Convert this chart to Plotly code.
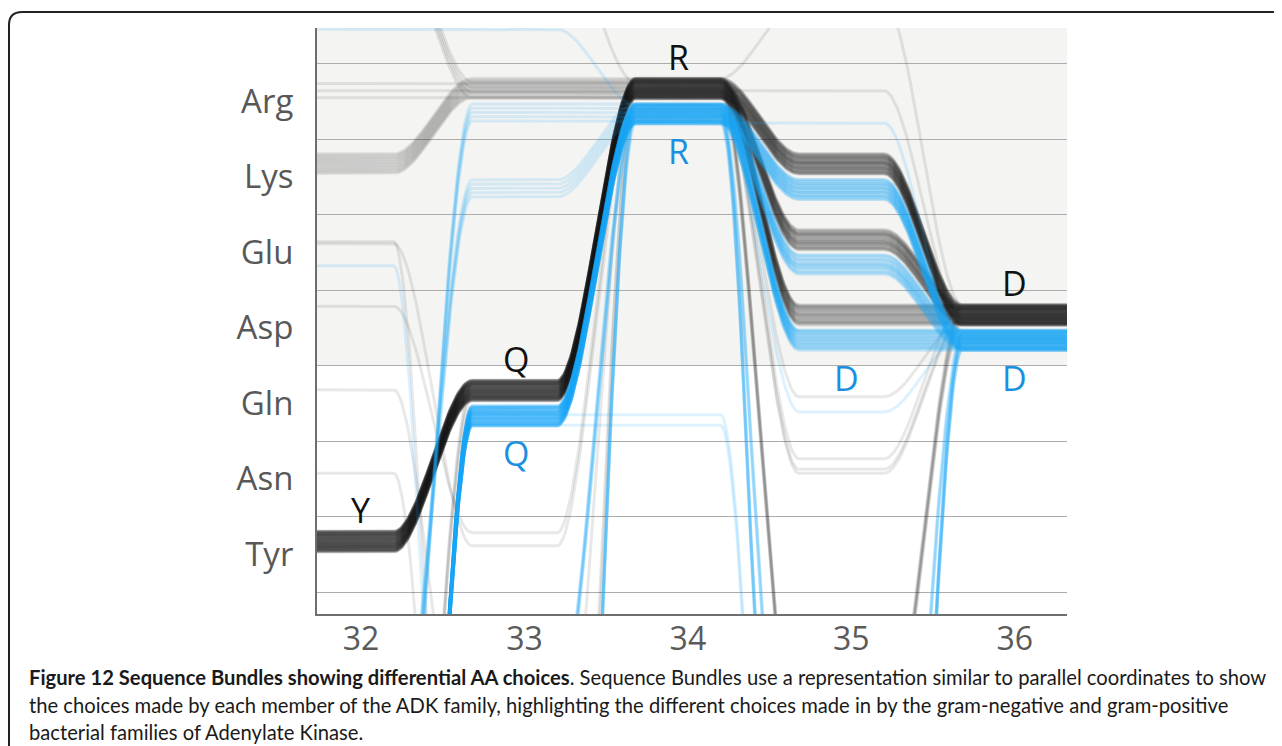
import numpy as np
import plotly.graph_objects as go

# ---------------- data ----------------
positions = [32, 33, 34, 35, 36]
position_labels = ["32", "33", "34", "35", "36"]

# full residue order on the vertical axis (top -> bottom); only part is in view
aa_order = ["Thr", "Ser", "His", "Arg", "Lys", "Glu", "Asp", "Gln", "Asn", "Tyr",
            "Trp", "Phe", "Met", "Cys", "Gly", "Pro", "Ala", "Val", "Leu", "Ile", "Gap"]
shown_aa = ["Arg", "Lys", "Glu", "Asp", "Gln", "Asn", "Tyr"]

# gram-negative family (black): residues at positions 32..36, number of sequences
neg_paths = [
    ["Tyr", "Gln", "Arg", "Lys", "Asp"],
    ["Tyr", "Gln", "Arg", "Glu", "Asp"],
    ["Tyr", "Gln", "Arg", "Asp", "Asp"],
    ["Tyr", "Gln", "Arg", "Met", "Asp"],
    ["Tyr", "Gln", "Arg", "His", "Asp"],
    ["Tyr", "Gln", "Arg", "Asn", "Asp"],
    ["Tyr", "Gln", "Arg", "Gln", "Asp"],
    ["Val", "Gln", "Arg", "Asp", "Asp"],
    ["Lys", "Arg", "Arg", "Lys", "Asp"],
    ["Arg", "Arg", "Arg", "Glu", "Asp"],
    ["Ser", "Arg", "Arg", "Lys", "Asp"],
    ["Glu", "Tyr", "Arg", "Glu", "Asp"],
    ["Asp", "Tyr", "Arg", "Asp", "Asp"],
    ["Gln", "Cys", "Arg", "Lys", "Asp"],
    ["Asn", "Leu", "Arg", "Asn", "Asp"],
    ["Ser", "Ser", "Arg", "Glu", "Asp"],
    ["Glu", "Ile", "Arg", "Arg", "Asp"],
]
neg_counts = [30, 30, 26, 6, 1, 2, 1, 3, 14, 3, 4, 1, 1, 1, 1, 1, 1]

# gram-positive family (blue)
pos_paths = [
    ["Gap", "Gln", "Arg", "Lys", "Asp"],
    ["Gap", "Gln", "Arg", "Glu", "Asp"],
    ["Gap", "Gln", "Arg", "Asp", "Asp"],
    ["Gap", "Gln", "Arg", "Gap", "Asp"],
    ["Gap", "Gln", "Arg", "Ala", "Asp"],
    ["Gap", "Phe", "Arg", "Asp", "Asp"],
    ["Gap", "Gap", "Arg", "Lys", "Asp"],
    ["Cys", "Arg", "Arg", "Lys", "Asp"],
    ["Met", "Lys", "Arg", "Glu", "Asp"],
    ["His", "His", "Arg", "Asp", "Asp"],
    ["Gap", "Gln", "Gln", "Gap", "Asp"],
    ["Gap", "Gln", "Arg", "Gln", "Asp"],
    ["Gap", "Gln", "Arg", "Arg", "Asp"],
    ["Glu", "Gap", "Arg", "Glu", "Asp"],
]
pos_counts = [18, 14, 20, 6, 4, 6, 6, 5, 5, 1, 2, 1, 1, 1]

# consensus letters per position
neg_letters = ["Y", "Q", "R", "", "D"]
pos_letters = ["", "Q", "R", "D", "D"]
letter_x = [32.0, 32.95, 33.94, 34.97, 36.0]
letter_aa = {"Y": "Tyr", "Q": "Gln", "R": "Arg", "D": "Asp"}

caption_lines = [
    "<b>Figure 12 Sequence Bundles showing differential AA choices</b>. Sequence Bundles use a representation similar to parallel coordinates to show",
    "the choices made by each member of the ADK family, highlighting the different choices made in by the gram-negative and gram-positive",
    "bacterial families of Adenylate Kinase.",
]

# ---------------- geometry helpers ----------------
X_MIN, X_MAX = 31.73, 36.32
Y_MIN, Y_MAX = -0.79, 6.97
FLAT_SHIFT, FLAT_HALF = 0.06, 0.26
tyr_row = aa_order.index("Tyr")


def aa_y(aa):
    return tyr_row - aa_order.index(aa)


def curve(levels):
    centers = [p - FLAT_SHIFT for p in positions]
    xs, ys = [X_MIN], [levels[0]]
    t = np.linspace(0, 1, 48)[1:-1]
    s = 3 * t ** 2 - 2 * t ** 3
    for k, lev in enumerate(levels):
        if k < len(levels) - 1:
            a = centers[k] + FLAT_HALF
            b = centers[k + 1] - FLAT_HALF
            xs.append(a); ys.append(lev)
            xs.extend((a + t * (b - a)).tolist())
            ys.extend((lev + (levels[k + 1] - lev) * s).tolist())
            xs.append(b); ys.append(levels[k + 1])
    xs.append(X_MAX); ys.append(levels[-1])
    return xs, ys


def add_group(fig, paths, counts, sign, color, width):
    lo, hi = 0.03, 0.31
    for b, (path, n) in enumerate(zip(paths, counts)):
        phase = (b * 0.618) % 1.0
        for i in range(n):
            frac = ((i + 0.5) / n + phase) % 1.0
            off = sign * (lo + (hi - lo) * frac)
            levels = [aa_y(a) + off for a in path]
            xs, ys = curve(levels)
            fig.add_trace(go.Scatter(x=xs, y=ys, mode="lines",
                                     line=dict(color=color, width=width),
                                     hoverinfo="skip", showlegend=False))


fig = go.Figure()
add_group(fig, neg_paths, neg_counts, +1, "rgba(30,30,30,0.10)", 3)
add_group(fig, pos_paths, pos_counts, -1, "rgba(25,165,245,0.15)", 3)

# consensus letters
for k, pos in enumerate(positions):
    if neg_letters[k]:
        fig.add_annotation(x=letter_x[k], y=aa_y(letter_aa[neg_letters[k]]) + 0.59,
                           text=neg_letters[k], showarrow=False,
                           font=dict(family="Open Sans", size=34, color="#111111"),
                           xanchor="center", yanchor="middle")
    if pos_letters[k]:
        fig.add_annotation(x=letter_x[k], y=aa_y(letter_aa[pos_letters[k]]) - 0.66,
                           text=pos_letters[k], showarrow=False,
                           font=dict(family="Open Sans", size=34, color="#1b8fe2"),
                           xanchor="center", yanchor="middle")

# ---------------- page geometry ----------------
PAGE_OFF = 8                      # default body margin of the page
W, H = 1282 - PAGE_OFF, 746 - PAGE_OFF
PLOT_L, PLOT_R, PLOT_T, PLOT_B = 317, 1067, 28, 614   # page pixels
ML, MT = PLOT_L - PAGE_OFF, PLOT_T - PAGE_OFF
MR, MB = W - (PLOT_R - PAGE_OFF), H - (PLOT_B - PAGE_OFF)
PW, PH = PLOT_R - PLOT_L, PLOT_B - PLOT_T


def px_x(px):
    return (px - PLOT_L) / PW


def px_y(py):
    return (PLOT_B - py) / PH


# shaded upper region (above Gln)
fig.add_shape(type="rect", xref="x domain", yref="y", x0=0, x1=1,
              y0=aa_y("Gln") + 0.5, y1=Y_MAX + 1, fillcolor="#f4f4f2",
              line=dict(width=0), layer="below")

# figure frame (rounded top-left corner, continues past the page edges)
bl, bt, r = 9, 12, 13
frame = (f"M {px_x(bl)} {px_y(760)} L {px_x(bl)} {px_y(bt + r)} "
         f"Q {px_x(bl)} {px_y(bt)} {px_x(bl + r)} {px_y(bt)} L {px_x(1300)} {px_y(bt)}")
fig.add_shape(type="path", xref="paper", yref="paper", path=frame,
              line=dict(color="#222222", width=2))

# caption
for i, line in enumerate(caption_lines):
    fig.add_annotation(xref="paper", yref="paper", x=px_x(27), y=px_y(677 + 27.5 * i),
                       text=line, showarrow=False, xanchor="left", yanchor="middle",
                       align="left", font=dict(family="Lato", size=20.2, color="#1a1a1a"))

fig.update_layout(
    width=W, height=H,
    margin=dict(l=ML, r=MR, t=MT, b=MB, pad=0),
    paper_bgcolor="white", plot_bgcolor="white",
    showlegend=False,
    xaxis=dict(range=[X_MIN, X_MAX], tickvals=positions, ticktext=position_labels,
               showgrid=False, zeroline=False, showline=True, linecolor="#6e6e6e",
               linewidth=2, ticks="", ticklabelstandoff=-4,
               tickfont=dict(family="Open Sans", size=32, color="#5a5a5a")),
    yaxis=dict(range=[Y_MIN, Y_MAX], tickvals=[aa_y(a) for a in shown_aa], ticktext=shown_aa,
               showgrid=False, zeroline=False, showline=True, linecolor="#6e6e6e",
               linewidth=2, ticks="outside", ticklen=15, tickcolor="rgba(0,0,0,0)",
               tickfont=dict(family="Open Sans", size=33, color="#585858"),
               minor=dict(tickvals=[aa_y(a) + 0.5 for a in shown_aa] + [aa_y("Tyr") - 0.5],
                          showgrid=True, gridcolor="#acacac", gridwidth=1, ticks="")),
)

fig.write_html("out.html")
